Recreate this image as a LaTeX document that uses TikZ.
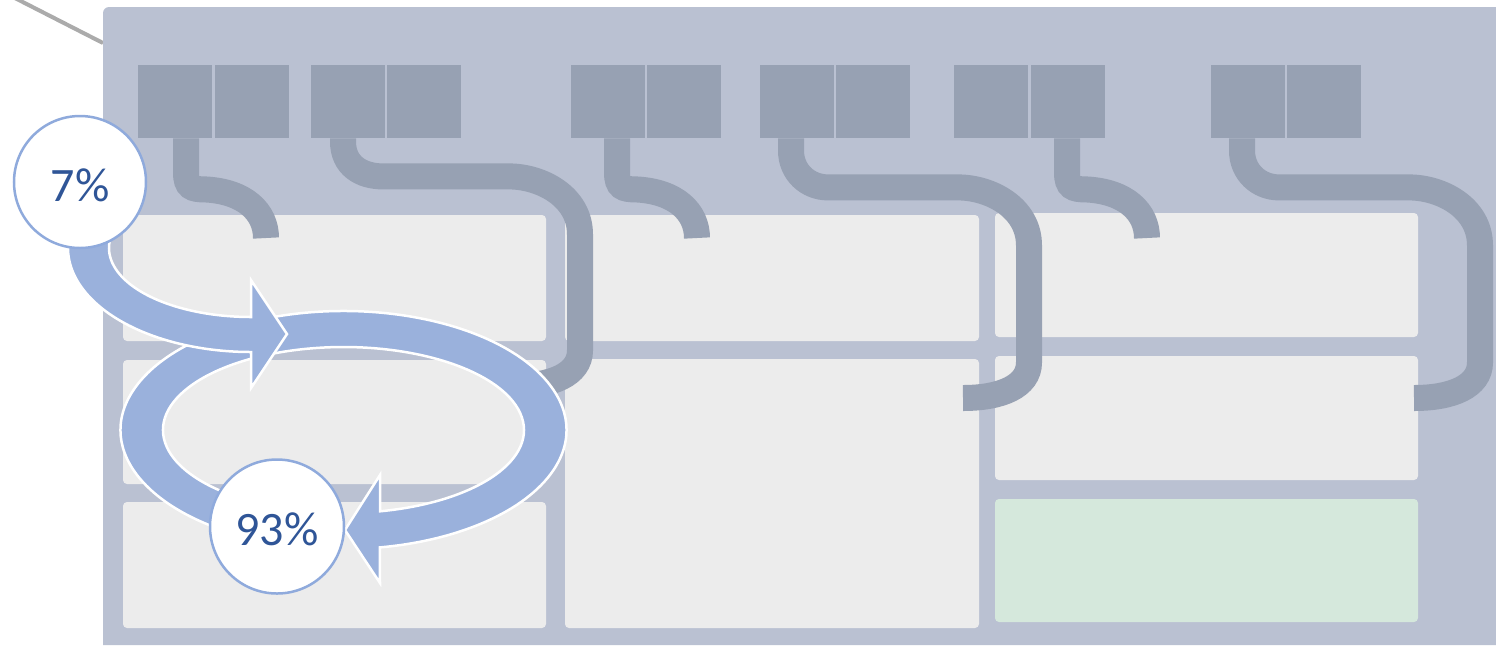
\documentclass[tikz,border=0pt]{standalone}
\usepackage{fontspec}
\setmainfont{Carlito}
\usetikzlibrary{calc}
\definecolor{cpanel}{HTML}{BAC1D2}
\definecolor{cport}{HTML}{97A1B3}
\definecolor{ccell}{HTML}{ECECEC}
\definecolor{cgreen}{HTML}{D5E8DC}
\definecolor{cflow}{HTML}{9AB1DC}
\definecolor{cring}{HTML}{8FAADC}
\definecolor{ctext}{HTML}{2F5597}
\definecolor{clead}{HTML}{ABABAB}
\tikzset{
  port/.style={fill=cport, minimum width=37pt, minimum height=36.5pt, inner sep=0pt},
  cell/.style={fill=#1, rounded corners=2pt},
  cell/.default=ccell,
  cable/.style={draw=cport, line width=13pt},
  flow/.style={fill=cflow, draw=white, line width=1.25pt},
  leader/.style={draw=clead, line width=2pt},
  pct/.style={circle, fill=white, draw=cring, line width=1.25pt, text=ctext, font=\fontsize{24}{24}\selectfont, text height=19pt, text depth=0pt, minimum size=#1, inner sep=0pt},
  pct/.default=66pt,
}
\begin{document}
\begin{tikzpicture}[x=0.5pt, y=-0.5pt]
  \useasboundingbox (0,0) rectangle (1496,645);
  \coordinate (corner) at (103,43);
  \draw[leader] (11,-4) -- (corner);
  \fill[cpanel] (103,645) [rounded corners=3pt] -- (103,7) [sharp corners] -- (1496,7) -- (1496,645) -- cycle;
  % cells
  \fill[cell] (123,215) rectangle (546,341);
  \fill[cell] (123,360) rectangle (546,484);
  \fill[cell] (123,502) rectangle (546,628);
  \fill[cell] (565,215) rectangle (979,341);
  \fill[cell] (565,359) rectangle (979,628);
  \fill[cell] (995,213) rectangle (1418,337);
  \fill[cell] (995,356) rectangle (1418,480);
  \fill[cell=cgreen] (995,499) rectangle (1418,622);
  % ports
  \node[port] (p1a) at (175,101.5) {};
  \node[port] (p1b) at (252,101.5) {};
  \node[port] (p2a) at (348,101.5) {};
  \node[port] (p2b) at (424,101.5) {};
  \node[port] (p3a) at (608,101.5) {};
  \node[port] (p3b) at (684,101.5) {};
  \node[port] (p4a) at (797,101.5) {};
  \node[port] (p4b) at (873,101.5) {};
  \node[port] (p5a) at (991,101.5) {};
  \node[port] (p5b) at (1068,101.5) {};
  \node[port] (p6a) at (1248,101.5) {};
  \node[port] (p6b) at (1324,101.5) {};
  \coordinate (e1) at (266,238);
  \coordinate (e2) at (514,386);
  \coordinate (e3) at (697,238);
  \coordinate (e4) at (963,398);
  \coordinate (e5) at (1147,238);
  \coordinate (e6) at (1414,398);
  % cables
  \draw[cable] ($(p1a.south)+(11,0)$) -- ++(0,34) .. controls +(0,15) and +(-13,0) .. ++(19,17) .. controls +(40,2) and +(0,-26) .. (e1);
  \draw[cable] ($(p3a.south)+(9,0)$) -- ++(0,34) .. controls +(0,15) and +(-13,0) .. ++(19,17) .. controls +(40,2) and +(0,-26) .. (e3);
  \draw[cable] ($(p5b.south)+(-1,0)$) -- ++(0,34) .. controls +(0,15) and +(-13,0) .. ++(19,17) .. controls +(40,2) and +(0,-26) .. (e5);
  \draw[cable] ($(p2a.south)+(-5,0)$) -- ++(0,3) .. controls +(0,24) and +(-22,0) .. ++(40,35) -- ++(126,0) .. controls +(32,0) and +(0,-38) .. ++(71,58) -- ++(0,116) .. controls +(0,24) and +(38,0) .. (e2);
  \draw[cable] ($(p4a.south)+(-6,0)$) -- ++(0,12) .. controls +(0,22) and +(-20,0) .. ++(37,37) -- ++(130,0) .. controls +(32,0) and +(0,-38) .. ++(71,58) -- ++(0,117) .. controls +(0,24) and +(38,0) .. (e4);
  \draw[cable] ($(p6a.south)+(-6,0)$) -- ++(0,12) .. controls +(0,22) and +(-20,0) .. ++(37,37) -- ++(130,0) .. controls +(32,0) and +(0,-38) .. ++(71,58) -- ++(0,117) .. controls +(0,24) and +(38,0) .. (e6);
  % loop and entry arrow
  \coordinate (loop) at (343.5,430);
  \coordinate (bend) at (251,248);
  \path[flow] ($(loop)+(110:223 and 119)$) arc[start angle=110, end angle=440.6, x radius=223, y radius=119] -- (380,583) -- (345,530) -- (380,475) -- (380,511.3) arc[start angle=438.33, end angle=110, x radius=180.5, y radius=83] -- cycle;
  \path[flow] ($(bend)+(190:183 and 104)$) arc[start angle=190, end angle=90, x radius=183, y radius=104] -- (251,388) -- (287,334) -- (251,280) -- (251,317) arc[start angle=90, end angle=190, x radius=142, y radius=69] -- cycle;
  \node[pct] (seven) at (80,182) {7\%};
  \node[pct=67pt] (ninety) at (277,526.5) {93\%};
\end{tikzpicture}
\end{document}
